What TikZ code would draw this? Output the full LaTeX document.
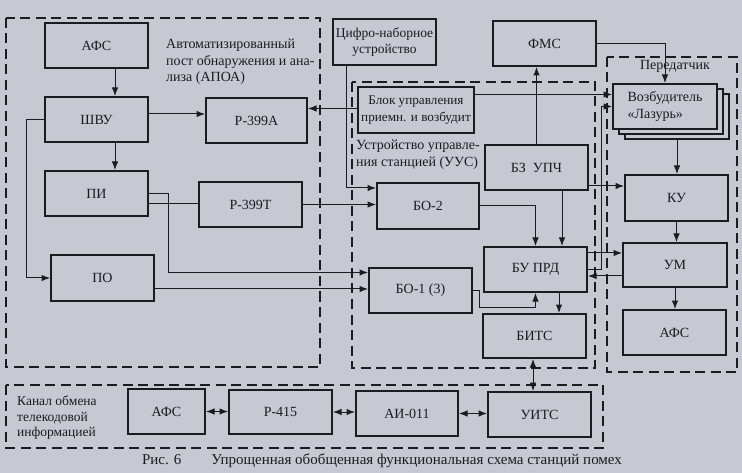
\documentclass[tikz,border=0pt]{standalone}
\usepackage{fontspec}
\setmainfont{Liberation Serif}
\usetikzlibrary{arrows.meta}
\definecolor{paper}{RGB}{198,200,210}
\definecolor{ink}{RGB}{28,28,32}

\begin{document}
\begin{tikzpicture}[x=1pt, y=-1pt, >={Latex[length=8.5pt,width=6.5pt]},
  every node/.style={font=\fontsize{14}{16.5}\selectfont, text=ink},
  blk/.style={draw=ink, line width=2pt, fill=paper, minimum width=103, minimum height=45, inner sep=2pt},
  link/.style={draw=ink, line width=1pt},
  frame/.style={draw=ink, line width=1.5pt, dash pattern=on 10pt off 5.5pt},
  lbl/.style={anchor=north west, align=left, inner sep=0pt}]
  \useasboundingbox[fill=paper] (0,0) rectangle (742,473);

  \node[blk] (afsA) at (96.5,45.5) {АФС};
  \node[blk] (shvu) at (96.5,119.5) {ШВУ};
  \node[blk] (pi) at (96.5,193.5) {ПИ};
  \node[blk, minimum height=46] (po) at (102.5,278) {ПО};
  \node[blk, minimum width=101] (r399a) at (256.5,120.5) {Р-399А};
  \node[blk] (r399t) at (250.5,204.5) {Р-399Т};
  \node[blk, minimum height=46, align=center, inner sep=0pt, font=\fontsize{13.5}{16.5}\selectfont] (cnu) at (384.5,42) {Цифро-наборное\\устройство};
  \node[blk] (fms) at (544.5,43.5) {ФМС};
  \node[blk, minimum width=116, minimum height=46, align=center, inner sep=0pt, font=\fontsize{13.2}{16.5}\selectfont] (bupv) at (416,110) {Блок управления\\приемн. и возбудит};
  \node[blk] (bzupch) at (536.5,167.5) {БЗ\enspace УПЧ};
  \node[blk, minimum width=102, minimum height=46] (bo2) at (428,206) {БО-2};
  \node[blk] (buprd) at (535.5,269.5) {БУ ПРД};
  \node[blk] (bo1) at (420.5,290.5) {БО-1 (3)};
  \node[blk, minimum height=44] (bits) at (534.5,336) {БИТС};
  \node[blk, minimum width=104] (vozbC) at (677,116.5) {};
  \node[blk, minimum width=104] (vozbB) at (671,111.5) {};
  \node[blk, minimum width=104, align=left] (vozb) at (665,106.5) {Возбудитель\\«Лазурь»};
  \node[blk, minimum height=46] (ku) at (676.5,198) {КУ};
  \node[blk, minimum width=104, minimum height=44] (um) at (675,265) {УМ};
  \node[blk] (afsP) at (674.5,332.5) {АФС};
  \node[blk, minimum width=77] (afsK) at (166.5,411.5) {АФС};
  \node[blk, minimum height=44] (r415) at (280.5,412) {Р-415};
  \node[blk, minimum width=102] (ai011) at (407,413.5) {АИ-011};
  \node[blk] (uits) at (539.5,414.5) {УИТС};

  \draw[frame] (6,18) rectangle (320,367);
  \draw[frame] (352,82) rectangle (595,368);
  \draw[frame] (607,57) rectangle (737,372);
  \draw[frame] (6,385) rectangle (603,448);

  \node[lbl] (apoaLbl) at (166,39) {Автоматизированный\\пост обнаружения и ана-\\лиза (АПОА)};
  \node[lbl] (uusLbl) at (356,140) {Устройство управле-\\ния станцией (УУС)};
  \node (prdLbl) at (675,66) {Передатчик};
  \node[lbl, font=\fontsize{13.5}{15.5}\selectfont] (kanLbl) at (17,396) {Канал обмена\\телекодовой\\информацией};
  \node[font=\fontsize{15}{17}\selectfont] (caption) at (382,461) {Рис. 6\qquad Упрощенная обобщенная функциональная схема станций помех};

  \draw[link, ->] ([xshift=18.5]afsA.south) -- ([xshift=18.5]shvu.north);
  \draw[link, ->] ([xshift=18.5]shvu.south) -- ([xshift=18.5]pi.north);
  \draw[link, ->] ([yshift=5.5]shvu.east) -- ([yshift=5.5]shvu.east -| r399a.west);
  \draw[link, ->] (shvu.west) -- ++(-18,0) |- (po.west);
  \draw[link, ->] (pi.east) -- ++(19,0) |- ([yshift=18]bo1.west);
  \draw[link] ([yshift=-10.5]pi.east) -- ([yshift=-10.5]pi.east -| r399t.west);
  \draw[link, ->] (r399t.east) -- (r399t.east -| bo2.west);
  \draw[link, ->] ([yshift=-11]po.east) -- ([yshift=-11]po.east -| bo1.west);
  \draw[link, ->] ([xshift=-38.5]cnu.south) |- ([yshift=18]bo2.west);
  \draw[link, ->] ([yshift=1.5]bupv.west) -- ([yshift=1.5]bupv.west -| r399a.east);
  \draw[link, ->] ([yshift=15.5]bupv.east) -- ([yshift=15.5]bupv.east -| vozb.west);
  \draw[link, ->] (fms.east) -| (vozb.north);
  \draw[link, ->] (bzupch.north) -- (bzupch.north |- fms.south);
  \draw[link, ->] ([yshift=-18.5]bzupch.east) -- ([yshift=-18.5]bzupch.east -| ku.west);
  \draw[link, ->] ([xshift=25.5]bzupch.south) -- ([xshift=25.5]bzupch.south |- buprd.north);
  \draw[link, ->] (bo2.east) -| (buprd.north);
  \draw[link, ->] (vozbC.south) -- (vozbC.south |- ku.north);
  \draw[link, ->] (ku.south) -- (ku.south |- um.north);
  \draw[link, ->] (um.south) -- (um.south |- afsP.north);
  \draw[link, ->] (buprd.east) -- ++(13,0) |- (vozb.west);
  \draw[link, ->] ([yshift=16.5]buprd.east) -- ([yshift=16.5]buprd.east -| um.west);
  \draw[link, ->] ([yshift=-11]um.west) -- ([yshift=-11]um.west -| buprd.east);
  \draw[link, ->] (bo1.east) -- ++(6,0) -- ++(0,16.5) -| (buprd.south);
  \draw[link, ->] ([xshift=23.5]buprd.south) -- ([xshift=23.5]buprd.south |- bits.north);
  \draw[link, <->] ([xshift=-1.5]bits.south) -- ([xshift=-1.5]bits.south |- uits.north);
  \draw[link, <->] (afsK.east) -- (afsK.east -| r415.west);
  \draw[link, <->] (r415.east) -- (r415.east -| ai011.west);
  \draw[link, <->] (ai011.east) -- (ai011.east -| uits.west);
\end{tikzpicture}
\end{document}
